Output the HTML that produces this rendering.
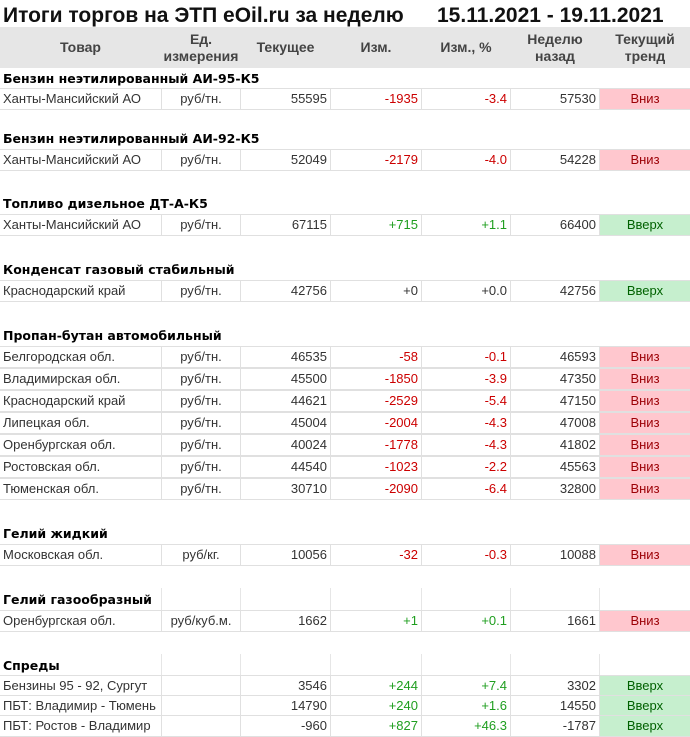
<!DOCTYPE html>
<html><head><meta charset="utf-8"><style>
body{margin:0;width:690px;height:737px;background:#fff;position:relative;overflow:hidden;font-family:"Liberation Sans",Arial,sans-serif;}
.t{position:absolute;white-space:nowrap}
.row{position:absolute;left:0;width:690px;height:22px;background:#e0e0e0}
.c{position:absolute;top:1px;height:20px;line-height:20px;background:#fff;font-size:13px;color:#333;white-space:nowrap;box-sizing:border-box}
.c1{left:0;width:161px;padding-left:3px}
.c2{left:162px;width:78px;text-align:center}
.c3{left:241px;width:89px;text-align:right;padding-right:3px}
.c4{left:331px;width:90px;text-align:right;padding-right:3px}
.c5{left:422px;width:88px;text-align:right;padding-right:3px}
.c6{left:511px;width:88px;text-align:right;padding-right:3px}
.c7{left:600px;width:90px;text-align:center}
.r{color:#cc0000}.g{color:#1f9e1f}
.dn{background:#ffc7ce;color:#9c0006}.up{background:#c6efce;color:#006100}
.sec{position:absolute;left:3px;font-family:"DejaVu Sans",sans-serif;font-weight:bold;font-size:12.5px;color:#000}
.vl{position:absolute;width:1px;background:#e6e6e6}
.hd{position:absolute;top:27px;height:41px;font-weight:bold;font-size:14px;color:#444;text-align:center;line-height:17px;display:flex;align-items:center;justify-content:center}
</style></head><body>
<div class="t" style="left:3px;top:4px;font-size:21px;font-weight:bold;color:#111">Итоги торгов на ЭТП eOil.ru за неделю</div>
<div class="t" style="left:437px;top:4px;font-size:21px;font-weight:bold;color:#111">15.11.2021 - 19.11.2021</div>
<div style="position:absolute;left:0;top:27px;width:690px;height:41px;background:#e6e6e6"></div>
<div class="hd" style="left:0;width:161px">Товар</div>
<div class="hd" style="left:162px;width:78px">Ед.<br>измерения</div>
<div class="hd" style="left:241px;width:89px">Текущее</div>
<div class="hd" style="left:331px;width:90px">Изм.</div>
<div class="hd" style="left:422px;width:88px">Изм., %</div>
<div class="hd" style="left:511px;width:88px">Неделю<br>назад</div>
<div class="hd" style="left:600px;width:90px">Текущий<br>тренд</div>

<div class="sec" style="top:71px">Бензин неэтилированный АИ-95-К5</div>
<div class="row" style="top:88px"><div class="c c1">Ханты-Мансийский АО</div><div class="c c2">руб/тн.</div><div class="c c3">55595</div><div class="c c4 r">-1935</div><div class="c c5 r">-3.4</div><div class="c c6">57530</div><div class="c c7 dn">Вниз</div></div>

<div class="sec" style="top:131px">Бензин неэтилированный АИ-92-К5</div>
<div class="row" style="top:149px"><div class="c c1">Ханты-Мансийский АО</div><div class="c c2">руб/тн.</div><div class="c c3">52049</div><div class="c c4 r">-2179</div><div class="c c5 r">-4.0</div><div class="c c6">54228</div><div class="c c7 dn">Вниз</div></div>

<div class="sec" style="top:196px">Топливо дизельное ДТ-А-К5</div>
<div class="row" style="top:214px"><div class="c c1">Ханты-Мансийский АО</div><div class="c c2">руб/тн.</div><div class="c c3">67115</div><div class="c c4 g">+715</div><div class="c c5 g">+1.1</div><div class="c c6">66400</div><div class="c c7 up">Вверх</div></div>

<div class="sec" style="top:262px">Конденсат газовый стабильный</div>
<div class="row" style="top:280px"><div class="c c1">Краснодарский край</div><div class="c c2">руб/тн.</div><div class="c c3">42756</div><div class="c c4">+0</div><div class="c c5">+0.0</div><div class="c c6">42756</div><div class="c c7 up">Вверх</div></div>

<div class="sec" style="top:328px">Пропан-бутан автомобильный</div>
<div class="row" style="top:346px"><div class="c c1">Белгородская обл.</div><div class="c c2">руб/тн.</div><div class="c c3">46535</div><div class="c c4 r">-58</div><div class="c c5 r">-0.1</div><div class="c c6">46593</div><div class="c c7 dn">Вниз</div></div>
<div class="row" style="top:368px"><div class="c c1">Владимирская обл.</div><div class="c c2">руб/тн.</div><div class="c c3">45500</div><div class="c c4 r">-1850</div><div class="c c5 r">-3.9</div><div class="c c6">47350</div><div class="c c7 dn">Вниз</div></div>
<div class="row" style="top:390px"><div class="c c1">Краснодарский край</div><div class="c c2">руб/тн.</div><div class="c c3">44621</div><div class="c c4 r">-2529</div><div class="c c5 r">-5.4</div><div class="c c6">47150</div><div class="c c7 dn">Вниз</div></div>
<div class="row" style="top:412px"><div class="c c1">Липецкая обл.</div><div class="c c2">руб/тн.</div><div class="c c3">45004</div><div class="c c4 r">-2004</div><div class="c c5 r">-4.3</div><div class="c c6">47008</div><div class="c c7 dn">Вниз</div></div>
<div class="row" style="top:434px"><div class="c c1">Оренбургская обл.</div><div class="c c2">руб/тн.</div><div class="c c3">40024</div><div class="c c4 r">-1778</div><div class="c c5 r">-4.3</div><div class="c c6">41802</div><div class="c c7 dn">Вниз</div></div>
<div class="row" style="top:456px"><div class="c c1">Ростовская обл.</div><div class="c c2">руб/тн.</div><div class="c c3">44540</div><div class="c c4 r">-1023</div><div class="c c5 r">-2.2</div><div class="c c6">45563</div><div class="c c7 dn">Вниз</div></div>
<div class="row" style="top:478px"><div class="c c1">Тюменская обл.</div><div class="c c2">руб/тн.</div><div class="c c3">30710</div><div class="c c4 r">-2090</div><div class="c c5 r">-6.4</div><div class="c c6">32800</div><div class="c c7 dn">Вниз</div></div>

<div class="sec" style="top:526px">Гелий жидкий</div>
<div class="row" style="top:544px"><div class="c c1">Московская обл.</div><div class="c c2">руб/кг.</div><div class="c c3">10056</div><div class="c c4 r">-32</div><div class="c c5 r">-0.3</div><div class="c c6">10088</div><div class="c c7 dn">Вниз</div></div>

<div class="vl" style="left:161px;top:588px;height:22px"></div><div class="vl" style="left:240px;top:588px;height:22px"></div><div class="vl" style="left:330px;top:588px;height:22px"></div><div class="vl" style="left:421px;top:588px;height:22px"></div><div class="vl" style="left:510px;top:588px;height:22px"></div><div class="vl" style="left:599px;top:588px;height:22px"></div>
<div class="sec" style="top:592px">Гелий газообразный</div>
<div class="row" style="top:610px"><div class="c c1">Оренбургская обл.</div><div class="c c2">руб/куб.м.</div><div class="c c3">1662</div><div class="c c4 g">+1</div><div class="c c5 g">+0.1</div><div class="c c6">1661</div><div class="c c7 dn">Вниз</div></div>

<div class="vl" style="left:161px;top:654px;height:21px"></div><div class="vl" style="left:240px;top:654px;height:21px"></div><div class="vl" style="left:330px;top:654px;height:21px"></div><div class="vl" style="left:421px;top:654px;height:21px"></div><div class="vl" style="left:510px;top:654px;height:21px"></div><div class="vl" style="left:599px;top:654px;height:21px"></div>
<div class="sec" style="top:658px">Спреды</div>
<div class="row" style="top:675px"><div class="c c1">Бензины 95 - 92, Сургут</div><div class="c c2"></div><div class="c c3">3546</div><div class="c c4 g">+244</div><div class="c c5 g">+7.4</div><div class="c c6">3302</div><div class="c c7 up">Вверх</div></div>
<div class="row" style="top:695px"><div class="c c1">ПБТ: Владимир - Тюмень</div><div class="c c2"></div><div class="c c3">14790</div><div class="c c4 g">+240</div><div class="c c5 g">+1.6</div><div class="c c6">14550</div><div class="c c7 up">Вверх</div></div>
<div class="row" style="top:715px"><div class="c c1">ПБТ: Ростов - Владимир</div><div class="c c2"></div><div class="c c3">-960</div><div class="c c4 g">+827</div><div class="c c5 g">+46.3</div><div class="c c6">-1787</div><div class="c c7 up">Вверх</div></div>
</body></html>
